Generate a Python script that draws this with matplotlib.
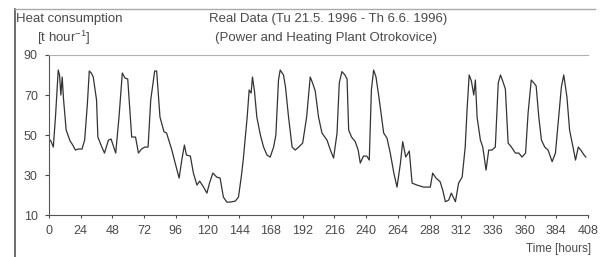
import numpy as np
import matplotlib
matplotlib.use('Agg')
import matplotlib.pyplot as plt

plt.rcParams['font.family'] = ['Liberation Sans', 'DejaVu Sans']
plt.rcParams['mathtext.fontset'] = 'custom'
plt.rcParams['mathtext.rm'] = 'Liberation Sans'

# Readings (hour, heat consumption)
hours = [0, 1.5, 3.3, 5, 7, 8, 9, 10, 11, 13, 16, 18, 20, 22, 25, 27, 29, 30.5, 32, 33.5,
         36, 37, 40, 42, 45, 47, 50.5, 53, 55.5, 57.5, 59.6, 62.6, 65.5, 67.7, 70, 72.5, 75, 77, 80, 81.5,
         84, 87, 89, 93, 95.5, 98.5, 100.5, 102.5, 104, 107, 109.3, 112, 114, 117, 119.5, 121.5, 124, 127, 129.5, 132,
         134.6, 137, 141, 143.4, 145.5, 147, 150, 151.5, 153, 154, 155.5, 157.3, 160, 162.4, 165, 167.4, 170, 171.7, 173.7, 175,
         177.5, 179, 181.3, 184, 186.4, 189, 192, 195, 197.7, 199.5, 201.5, 204, 206.6, 210.4, 213, 215.4, 218, 219.7, 221.7, 224,
         225.6, 226.8, 229, 231.8, 234, 235.6, 238, 240.5, 242.4, 244, 245.7, 247.5, 250, 253.3, 255.8, 258.3, 261, 263.4, 266, 267.7,
         270, 272.7, 274.8, 278.5, 283.5, 288.6, 290.4, 292.9, 296, 298, 300, 302.5, 304.5, 307.6, 310, 312.7, 315, 316.4, 318, 319.7,
         321.5, 322.7, 324, 326.5, 328.3, 330.8, 332.8, 335.3, 337.8, 340, 341.7, 343.4, 345.4, 347.5, 350, 353, 355.6, 358, 360.7, 362.6,
         365, 367, 368.7, 370.7, 372.7, 375.2, 377.7, 380.8, 383.3, 385.8, 387.8, 389.6, 392, 394, 396.6, 398.5, 400.6, 403, 405, 406.3]
heat = [48, 47, 44, 60, 82.5, 80, 70, 79, 68, 52.5, 47, 45, 42.5, 43, 43, 47.5, 65, 82, 81, 79,
        67.5, 49, 44, 41, 47.5, 48, 41, 59, 81, 78.5, 78, 49, 49, 41, 43, 44, 44, 67.5, 82, 82,
        59, 51.7, 51, 42.5, 36, 28.5, 37.5, 45, 40, 39.5, 31, 25, 27, 24, 21, 26, 31, 29, 28.5, 19,
        16.5, 16.5, 17, 19, 29, 37.5, 59, 72.5, 71, 79, 72, 59, 50, 44, 40, 39, 44, 50, 77.5, 82.5,
        80, 74, 59, 44, 42.5, 44, 46, 59, 79, 76, 72, 59, 51, 47.5, 42.5, 38.5, 51, 76, 81.7, 80,
        78, 52.5, 49, 46.7, 42.5, 36, 39.5, 39.5, 37.5, 72.5, 82.5, 79, 67.5, 51, 48.5, 41, 31, 24, 36, 46.7,
        39, 42, 26, 25, 24, 24, 31, 28.5, 26.7, 22.5, 16.7, 17.5, 21, 16.7, 26, 29, 44, 62.5, 80, 77,
        70, 77.5, 59, 47.5, 44, 32.5, 42.5, 42.5, 44, 76, 80, 77, 73, 46, 44, 41, 41, 39, 41, 61,
        77.5, 76, 74.5, 59, 47.5, 44, 42.5, 36.7, 41, 59, 74, 80, 69, 52.5, 44, 37.5, 44, 42, 40, 39]

xticks = np.arange(0, 409, 24)
yticks = [10, 30, 50, 70, 90]
txt = '#4a4a4a'

fig = plt.figure(figsize=(6.01, 2.57), dpi=100)
ax = fig.add_axes([0.0815, 0.163, 0.897, 0.623])
ax.plot(hours, heat, color='#333333', lw=0.9)

ax.set_xlim(0, 408)
ax.set_ylim(10, 90)
ax.set_xticks(xticks)
ax.set_yticks(yticks)
ax.tick_params(axis='both', labelsize=9, colors=txt, length=3, width=0.8, pad=5)
ax.tick_params(axis='x', length=2)
ax.spines['right'].set_visible(False)
ax.spines['top'].set_color('#b0b0b0')
ax.spines['left'].set_color('#555555')
ax.spines['bottom'].set_color('#555555')

# frame lines round the chart
fig.add_artist(plt.Line2D([15/601, 15/601], [0, 1 - 9/257], color='#555555', lw=1.2))
fig.add_artist(plt.Line2D([15/601, 595/601], [1 - 9/257, 1 - 9/257], color='#aaaaaa', lw=1.0))

fig.text(16/601, 1 - 19/257, 'Heat consumption', fontsize=9.5, color=txt, ha='left', va='center')
fig.text(64/601, 1 - 38/257, r'[t hour$^{-1}$]', fontsize=9.5, color=txt, ha='center', va='center')
fig.text(328/601, 1 - 19/257, 'Real Data (Tu 21.5. 1996 - Th 6.6. 1996)', fontsize=9.5, color=txt,
         ha='center', va='center')
fig.text(326/601, 1 - 38/257, '(Power and Heating Plant Otrokovice)', fontsize=9.5, color=txt,
         ha='center', va='center')
fig.text(591/601, 1 - 249/257, 'Time [hours]', fontsize=8.5, color=txt, ha='right', va='center')

fig.savefig('out.png', dpi=100)
